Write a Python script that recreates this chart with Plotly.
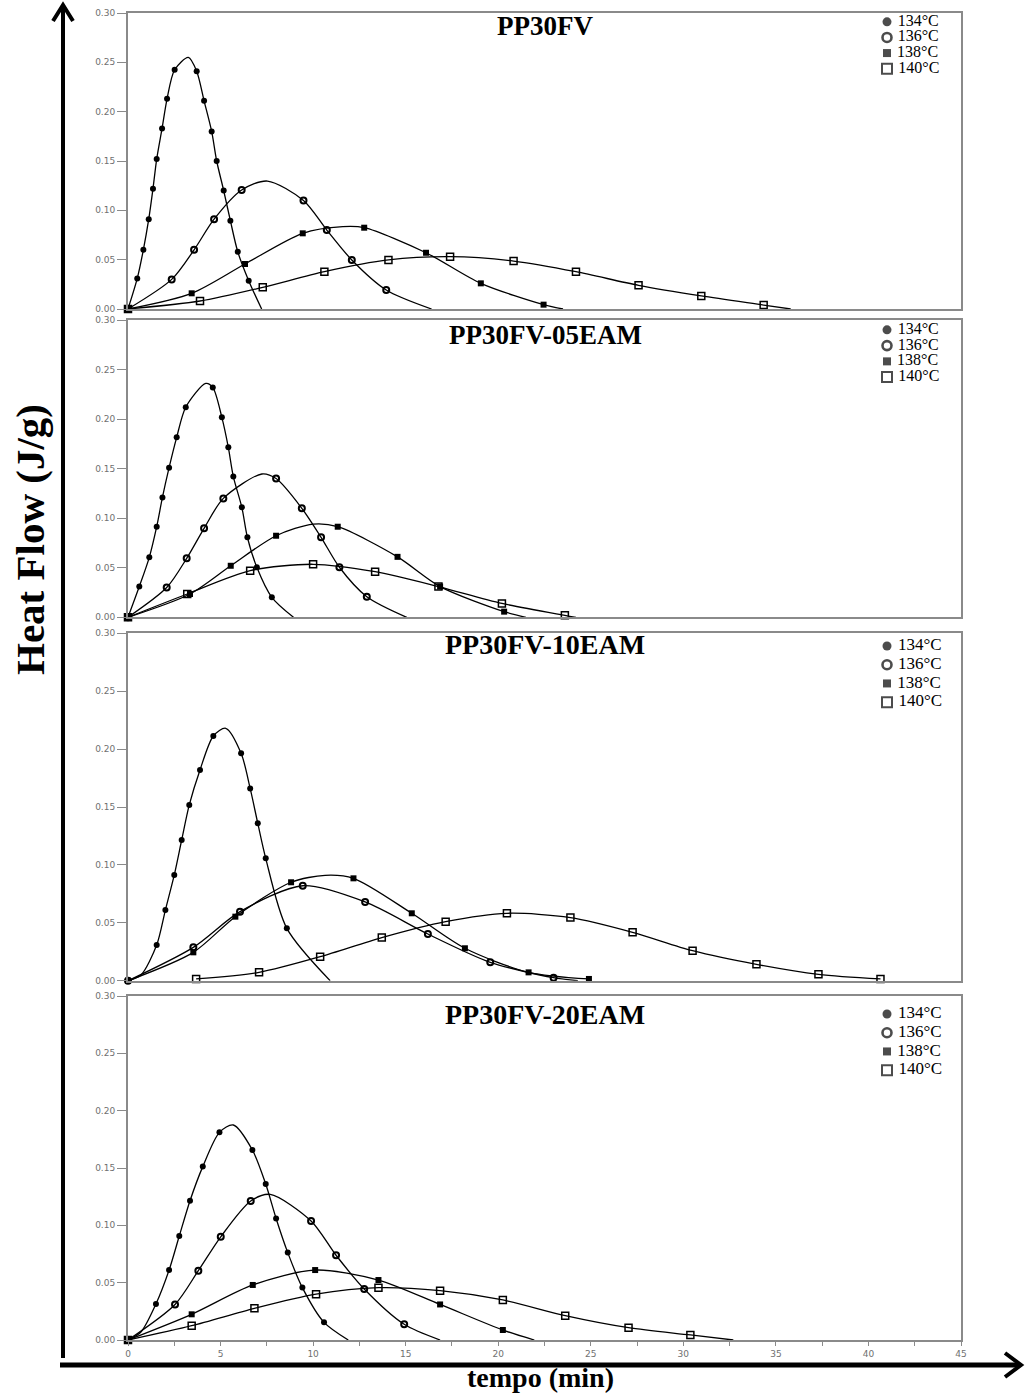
import plotly.graph_objects as go

W, H = 1025, 1394


def fx(p):
    return p / W


def fy(p):
    return 1 - p / H


# ---------------- data ----------------
PANEL_TITLES = ["PP30FV", "PP30FV-05EAM", "PP30FV-10EAM", "PP30FV-20EAM"]
TEMPS = ["134°C", "136°C", "138°C", "140°C"]
X_TICKS = [0, 5, 10, 15, 20, 25, 30, 35, 40, 45]
Y_TICKS = [0.00, 0.05, 0.10, 0.15, 0.20, 0.25, 0.30]
Y_TICK_TEXT = ["0.00", "0.05", "0.10", "0.15", "0.20", "0.25", "0.30"]

# PP30FV
p1_134_x = [0, 0.5, 0.83, 1.12, 1.35, 1.55, 1.84, 2.11, 2.52, 3.26, 3.71, 4.11, 4.52, 4.79, 5.17, 5.53, 5.93, 6.52, 7.22]
p1_134_y = [0, 0.031, 0.060, 0.091, 0.122, 0.152, 0.183, 0.213, 0.2425, 0.255, 0.241, 0.211, 0.180, 0.150, 0.120, 0.0895, 0.058, 0.0287, 0]
p1_134_m = [1, 1, 1, 1, 1, 1, 1, 1, 1, 0, 1, 1, 1, 1, 1, 1, 1, 1, 0]
p1_136_x = [0, 2.36, 3.57, 4.65, 6.14, 7.53, 9.48, 10.74, 12.09, 13.95, 16.4]
p1_136_y = [0, 0.030, 0.060, 0.091, 0.1206, 0.1297, 0.110, 0.080, 0.0497, 0.0193, 0]
p1_136_m = [1, 1, 1, 1, 1, 0, 1, 1, 1, 1, 0]
p1_138_x = [0, 3.44, 6.32, 9.44, 11.6, 12.76, 16.1, 19.06, 22.45, 23.5]
p1_138_y = [0, 0.0159, 0.0456, 0.0767, 0.0834, 0.0824, 0.057, 0.026, 0.0044, 0]
p1_138_m = [1, 1, 1, 1, 0, 1, 1, 1, 1, 0]
p1_140_x = [0, 3.89, 7.28, 10.61, 14.07, 17.4, 20.83, 24.2, 27.58, 30.97, 34.34, 35.8]
p1_140_y = [0, 0.0081, 0.022, 0.0378, 0.0497, 0.053, 0.0486, 0.0378, 0.024, 0.0132, 0.004, 0]
p1_140_m = [1, 1, 1, 1, 1, 1, 1, 1, 1, 1, 1, 0]

# PP30FV-05EAM
p2_134_x = [0, 0.61, 1.15, 1.55, 1.86, 2.22, 2.63, 3.12, 4.2, 4.58, 5.07, 5.42, 5.69, 6.15, 6.45, 6.96, 7.77, 8.94]
p2_134_y = [0, 0.031, 0.0605, 0.0914, 0.121, 0.151, 0.1816, 0.212, 0.236, 0.232, 0.2018, 0.1715, 0.142, 0.111, 0.0807, 0.0505, 0.0202, 0]
p2_134_m = [1, 1, 1, 1, 1, 1, 1, 1, 0, 1, 1, 1, 1, 1, 1, 1, 1, 0]
p2_136_x = [0, 2.09, 3.17, 4.11, 5.15, 7.23, 8.0, 9.39, 10.43, 11.42, 12.9, 15.06]
p2_136_y = [0, 0.030, 0.0595, 0.0898, 0.120, 0.1446, 0.140, 0.110, 0.0807, 0.0505, 0.0208, 0]
p2_136_m = [1, 1, 1, 1, 1, 0, 1, 1, 1, 1, 1, 0]
p2_138_x = [0, 3.35, 5.55, 8.0, 10.0, 11.33, 14.56, 16.86, 20.32, 21.5]
p2_138_y = [0, 0.0235, 0.052, 0.0823, 0.094, 0.0914, 0.061, 0.031, 0.0057, 0]
p2_138_m = [1, 1, 1, 1, 0, 1, 1, 1, 1, 0]
p2_140_x = [0, 3.2, 6.6, 10.0, 13.35, 16.77, 20.2, 23.6, 24.2]
p2_140_y = [0, 0.0235, 0.047, 0.0535, 0.046, 0.031, 0.014, 0.002, 0]
p2_140_m = [1, 1, 1, 1, 1, 1, 1, 1, 0]

# PP30FV-10EAM
p3_134_x = [0, 0.7, 1.55, 2.02, 2.5, 2.9, 3.31, 3.89, 4.61, 5.28, 6.11, 6.6, 7.01, 7.44, 8.58, 10.92]
p3_134_y = [0, 0.005, 0.0308, 0.061, 0.0913, 0.1215, 0.1518, 0.182, 0.2113, 0.218, 0.1964, 0.166, 0.136, 0.1057, 0.0452, 0]
p3_134_m = [1, 0, 1, 1, 1, 1, 1, 1, 1, 0, 1, 1, 1, 1, 1, 0]
p3_136_x = [0, 3.53, 6.05, 9.44, 12.81, 16.2, 19.57, 22.99, 24.3]
p3_136_y = [0, 0.0288, 0.0596, 0.082, 0.068, 0.0403, 0.0159, 0.0026, 0]
p3_136_m = [1, 1, 1, 1, 1, 1, 1, 1, 0]
p3_138_x = [0, 3.53, 5.8, 8.81, 10.65, 12.18, 15.33, 18.2, 21.64, 24.9]
p3_138_y = [0, 0.0245, 0.0553, 0.085, 0.091, 0.0884, 0.0582, 0.028, 0.0072, 0.0015]
p3_138_m = [1, 1, 1, 1, 0, 1, 1, 1, 1, 1]
p3_140_x = [3.68, 7.08, 10.38, 13.71, 17.16, 20.47, 23.9, 27.26, 30.5, 33.95, 37.3, 40.65]
p3_140_y = [0.0015, 0.0072, 0.0207, 0.0372, 0.051, 0.0582, 0.0545, 0.0418, 0.0259, 0.0141, 0.0055, 0.0015]
p3_140_m = [1, 1, 1, 1, 1, 1, 1, 1, 1, 1, 1, 1]

# PP30FV-20EAM
p4_134_x = [0, 0.7, 1.51, 2.22, 2.77, 3.35, 4.04, 4.94, 5.69, 6.72, 7.44, 8.0, 8.63, 9.42, 10.59, 11.9]
p4_134_y = [0, 0.007, 0.0314, 0.061, 0.0907, 0.1215, 0.1512, 0.1811, 0.1875, 0.1657, 0.136, 0.106, 0.0762, 0.0457, 0.0154, 0]
p4_134_m = [1, 0, 1, 1, 1, 1, 1, 1, 0, 1, 1, 1, 1, 1, 1, 0]
p4_136_x = [0, 2.54, 3.8, 5.01, 6.63, 7.68, 9.89, 11.24, 12.76, 14.92, 16.86]
p4_136_y = [0, 0.031, 0.0605, 0.090, 0.1212, 0.127, 0.1038, 0.0739, 0.0445, 0.0137, 0]
p4_136_m = [1, 1, 1, 1, 1, 0, 1, 1, 1, 1, 0]
p4_138_x = [0, 3.44, 6.74, 10.11, 13.53, 16.86, 20.25, 21.95]
p4_138_y = [0, 0.0224, 0.048, 0.061, 0.0523, 0.031, 0.0087, 0]
p4_138_m = [1, 1, 1, 1, 1, 1, 1, 0]
p4_140_x = [0, 3.44, 6.83, 10.16, 13.53, 16.86, 20.25, 23.62, 27.04, 30.38, 32.7]
p4_140_y = [0, 0.0125, 0.0276, 0.040, 0.0456, 0.043, 0.0349, 0.0212, 0.0107, 0.0044, 0]
p4_140_m = [1, 1, 1, 1, 1, 1, 1, 1, 1, 1, 0]

PANELS = [
    [(p1_134_x, p1_134_y, p1_134_m), (p1_136_x, p1_136_y, p1_136_m),
     (p1_138_x, p1_138_y, p1_138_m), (p1_140_x, p1_140_y, p1_140_m)],
    [(p2_134_x, p2_134_y, p2_134_m), (p2_136_x, p2_136_y, p2_136_m),
     (p2_138_x, p2_138_y, p2_138_m), (p2_140_x, p2_140_y, p2_140_m)],
    [(p3_134_x, p3_134_y, p3_134_m), (p3_136_x, p3_136_y, p3_136_m),
     (p3_138_x, p3_138_y, p3_138_m), (p3_140_x, p3_140_y, p3_140_m)],
    [(p4_134_x, p4_134_y, p4_134_m), (p4_136_x, p4_136_y, p4_136_m),
     (p4_138_x, p4_138_y, p4_138_m), (p4_140_x, p4_140_y, p4_140_m)],
]

# ---------------- styling ----------------
SERIF = "Liberation Serif"
AX_COL = "#8a8a8a"
TICK_FONT = dict(family="DejaVu Sans", size=9, color="#707070")

MARKERS = [
    dict(symbol="circle", size=6, color="black"),
    dict(symbol="circle-open", size=6, color="black", line=dict(width=2, color="black")),
    dict(symbol="square", size=6, color="black"),
    dict(symbol="square-open", size=7, color="black", line=dict(width=1.5, color="black")),
]
LEG_SYMBOLS = ["circle", "circle-open", "square", "square-open"]
LEG_SIZES = [9, 9, 8, 10]
LEG_LINES = [0, 2.6, 0, 2]

# panel frames in pixels (top, bottom)
PANEL_PX = [(13, 309), (320, 617.3), (633.3, 980.7), (996, 1340)]
X_DOM = [fx(128), fx(961)]
# legend key box in pixels (top, bottom): 4 rows
LEG_PX = [(14, 76.5), (322, 385), (636.7, 711.5), (1004.7, 1079.5)]
LEG_FONT = [16, 16, 17, 17]
TITLE_Y = [26, 335, 645, 1014]
TITLE_SIZE = [27, 27, 28, 28]

fig = go.Figure()
layout = dict(
    width=W, height=H,
    margin=dict(l=0, r=0, t=0, b=0, autoexpand=False),
    paper_bgcolor="white", plot_bgcolor="white",
    showlegend=False,
)

annotations = []
n = len(PANELS)
for i, panel in enumerate(PANELS):
    k = "" if i == 0 else str(i + 1)
    xa, ya = "x" + k, "y" + k
    top, bot = PANEL_PX[i]
    bottom_panel = i == n - 1
    layout["xaxis" + k] = dict(
        domain=X_DOM, range=[0, 45], anchor=ya, automargin=False,
        showline=True, mirror=True, linecolor=AX_COL, linewidth=2,
        showgrid=False, zeroline=False,
        tickvals=X_TICKS if bottom_panel else [],
        ticks="outside" if bottom_panel else "",
        ticklen=4, tickcolor=AX_COL, tickwidth=1,
        showticklabels=bottom_panel, tickfont=TICK_FONT,
        minor=dict(dtick=2.5, tick0=0, ticks="outside" if bottom_panel else "",
                   ticklen=4, tickcolor=AX_COL),
        fixedrange=True,
    )
    layout["yaxis" + k] = dict(
        domain=[fy(bot), fy(top)], range=[0, 0.30], anchor=xa, automargin=False,
        showline=True, mirror=True, linecolor=AX_COL, linewidth=2,
        showgrid=False, zeroline=False,
        tickvals=Y_TICKS, ticktext=Y_TICK_TEXT,
        ticks="outside", ticklen=9, tickcolor=AX_COL, tickwidth=1,
        tickfont=TICK_FONT, fixedrange=True,
    )
    for j, (xs, ys, ms) in enumerate(panel):
        fig.add_trace(go.Scatter(
            x=xs, y=ys, mode="lines", xaxis=xa, yaxis=ya,
            line=dict(color="black", width=1.3, shape="spline", smoothing=0.8),
            showlegend=False, hoverinfo="skip",
        ))
        mx = [x for x, m in zip(xs, ms) if m]
        my = [y for y, m in zip(ys, ms) if m]
        fig.add_trace(go.Scatter(
            x=mx, y=my, mode="markers", xaxis=xa, yaxis=ya,
            marker=MARKERS[j], cliponaxis=False,
            showlegend=False, name=TEMPS[j],
        ))

    # legend key: categorical helper axes
    lk = str(n + i + 1)
    ltop, lbot = LEG_PX[i]
    layout["xaxis" + lk] = dict(domain=[fx(880), fx(894)], range=[0, 1],
                                anchor="y" + lk, visible=False, fixedrange=True)
    layout["yaxis" + lk] = dict(domain=[fy(lbot), fy(ltop)], type="category",
                                categoryorder="array", categoryarray=TEMPS,
                                range=[len(TEMPS) - 0.5, -0.5],
                                anchor="x" + lk, visible=False, fixedrange=True)
    fig.add_trace(go.Scatter(
        x=[0.5] * len(TEMPS), y=TEMPS, mode="markers+text",
        xaxis="x" + lk, yaxis="y" + lk,
        text=["\u00a0" + t for t in TEMPS], textposition="middle right",
        textfont=dict(family=SERIF, size=LEG_FONT[i], color="black"),
        marker=dict(symbol=LEG_SYMBOLS, size=LEG_SIZES, color="black",
                    line=dict(width=LEG_LINES, color="black")),
        cliponaxis=False, showlegend=False, hoverinfo="skip",
    ))

    annotations.append(dict(
        text=PANEL_TITLES[i], xref="paper", yref="paper",
        x=fx(545), y=fy(TITLE_Y[i]), xanchor="center", yanchor="middle",
        showarrow=False,
        font=dict(family=SERIF, size=TITLE_SIZE[i], color="black", weight="bold"),
    ))

annotations.append(dict(
    text="Heat Flow (J/g)", xref="paper", yref="paper",
    x=fx(30), y=fy(540), xanchor="center", yanchor="middle",
    textangle=-90, showarrow=False,
    font=dict(family=SERIF, size=41, color="black", weight="bold"),
))
annotations.append(dict(
    text="tempo (min)", xref="paper", yref="paper",
    x=fx(540), y=fy(1377), xanchor="center", yanchor="middle",
    showarrow=False,
    font=dict(family=SERIF, size=28, color="black", weight="bold"),
))
layout["annotations"] = annotations

# big axis arrows
layout["shapes"] = [
    dict(type="line", xref="paper", yref="paper",
         x0=fx(63), x1=fx(63), y0=fy(1358), y1=fy(6),
         line=dict(color="black", width=4)),
    dict(type="path", xref="paper", yref="paper",
         path=f"M {fx(53)},{fy(21)} L {fx(63)},{fy(5)} L {fx(73)},{fy(21)}",
         line=dict(color="black", width=4)),
    dict(type="line", xref="paper", yref="paper",
         x0=fx(60), x1=fx(1020), y0=fy(1365), y1=fy(1365),
         line=dict(color="black", width=5)),
    dict(type="path", xref="paper", yref="paper",
         path=f"M {fx(1005)},{fy(1353)} L {fx(1021)},{fy(1365)} L {fx(1005)},{fy(1377)}",
         line=dict(color="black", width=4)),
]

fig.update_layout(**layout)
fig.write_html(
    "out.html",
    config={"displayModeBar": False, "staticPlot": True},
    post_script="document.body.style.margin='0px';document.body.style.padding='0px';",
)
